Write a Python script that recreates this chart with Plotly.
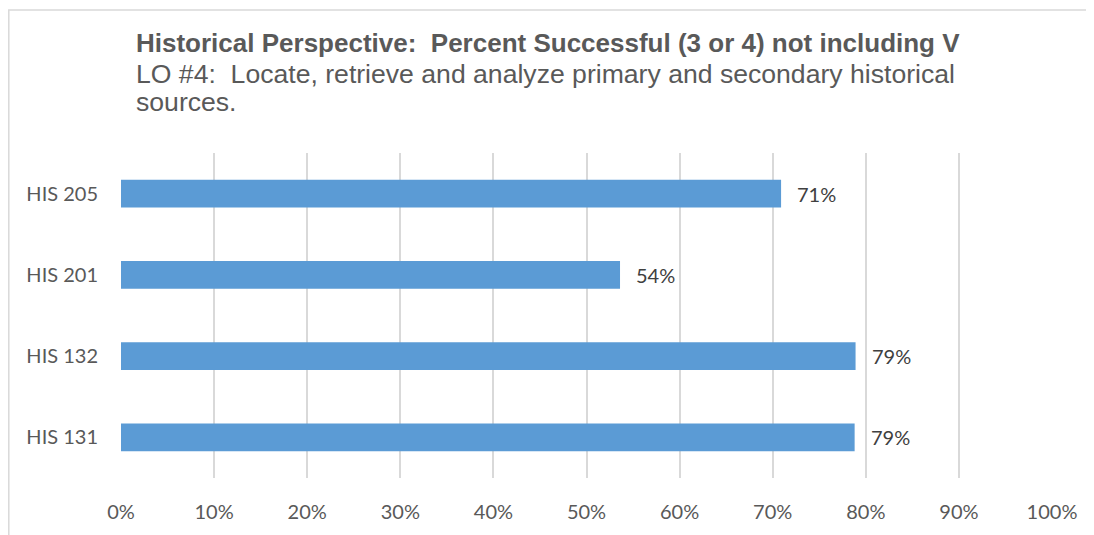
import plotly.graph_objects as go

courses = ["HIS 131", "HIS 132", "HIS 201", "HIS 205"]
pct_success = [0.788, 0.789, 0.536, 0.709]
x_ticks = [0, 0.1, 0.2, 0.3, 0.4, 0.5, 0.6, 0.7, 0.8, 0.9, 1.0]

title_line = "Historical Perspective:  Percent Successful (3 or 4) not including V"
sub_lines = [
    "LO #4:  Locate, retrieve and analyze primary and secondary historical",
    "sources.",
]

bar_color = "#5B9BD5"
grid_color = "#D9D9D9"
label_font = "Lato, Calibri, Carlito, sans-serif"
title_font = "Liberation Sans, Arial, sans-serif"

# page has an 8px body margin, so the figure is a bit smaller than the window
fig = go.Figure()
fig.add_trace(go.Bar(
    x=pct_success,
    y=courses,
    orientation="h",
    marker=dict(color=bar_color, line=dict(width=0)),
    hoverinfo="skip",
))

# data labels next to the bar ends
for c, v in zip(courses, pct_success):
    fig.add_annotation(
        x=v, y=c, xref="x", yref="y",
        text=f"{v:.0%}", showarrow=False,
        xanchor="left", xshift=14,
        font=dict(family=label_font, size=20, color="#404040"),
    )

# title block, positioned relative to the plot area (153..481 px on page)
title_lines = ["<b>" + title_line + "</b>"] + sub_lines
line_centers = [42, 73, 102]
line_sizes = [26, 26.6, 26.6]
for t, yp, fs in zip(title_lines, line_centers, line_sizes):
    fig.add_annotation(
        x=(134 - 121) / 931, y=1 + (153 - yp) / 328,
        xref="paper", yref="paper",
        text=t, showarrow=False,
        xanchor="left", yanchor="middle",
        font=dict(family=title_font, size=fs, color="#595959"),
    )

# chart border (left and top edges visible)
fig.add_shape(
    type="rect", xref="paper", yref="paper",
    x0=(8.8 - 121) / 931, x1=(1150 - 121) / 931,
    y0=-(600 - 481) / 328, y1=1 + (153 - 8.8) / 328,
    line=dict(color="#D9D9D9", width=1.5),
    fillcolor="rgba(0,0,0,0)",
)

fig.update_layout(
    width=1086, height=527,
    margin=dict(l=113, r=42, t=145, b=54),
    paper_bgcolor="white",
    plot_bgcolor="white",
    showlegend=False,
    bargap=0.66,
    xaxis=dict(
        range=[0, 1.0],
        tickvals=x_ticks,
        tickformat=".0%",
        showgrid=True, gridcolor=grid_color, gridwidth=2,
        zeroline=False,
        showline=False,
        ticks="",
        ticklabelstandoff=20,
        tickfont=dict(family=label_font, size=20, color="#595959"),
    ),
    yaxis=dict(
        categoryorder="array", categoryarray=courses,
        showgrid=False, zeroline=False, showline=False,
        ticks="",
        ticklabelstandoff=22,
        tickfont=dict(family=label_font, size=20, color="#595959"),
    ),
)

fig.write_html("out.html")
